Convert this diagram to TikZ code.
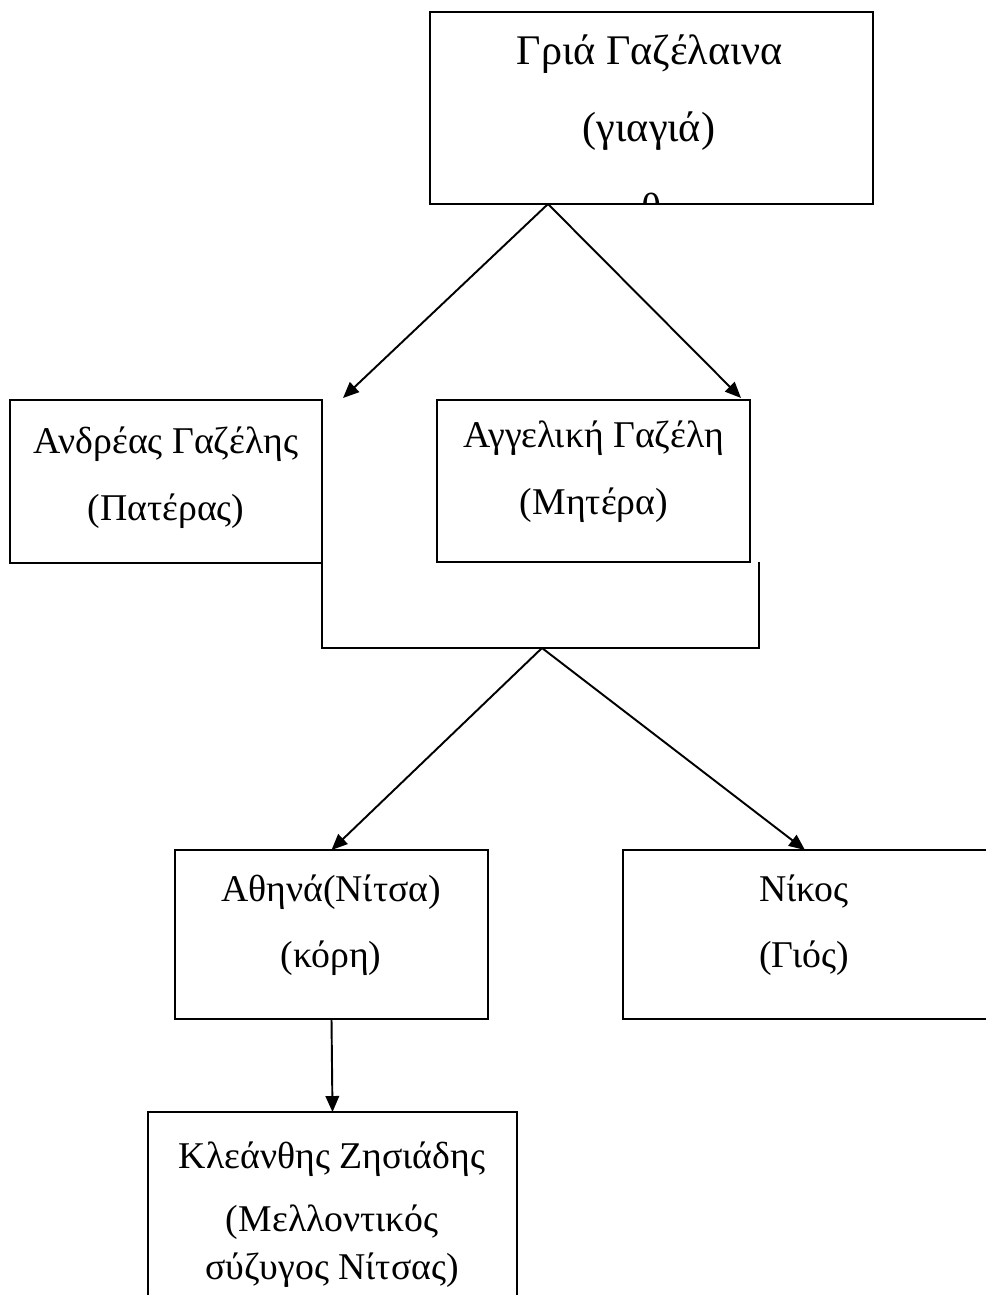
\documentclass[tikz,border=0pt]{standalone}
\usepackage{fontspec}
\setmainfont{Liberation Serif}
\usepackage{tikz}
\usetikzlibrary{positioning, arrows, arrows.meta}

\begin{document}
\begin{tikzpicture}[x=0.02cm, y=-0.02cm,
  person/.style={draw, line width=1.1pt, inner sep=0pt, outer sep=0pt},
  ptext/.style={anchor=base, inner sep=0pt, font=\fontsize{21.5}{26}\selectfont},
  bigtext/.style={ptext, font=\fontsize{24}{29}\selectfont},
  link/.style={line width=1.1pt, -{Triangle[length=0.32cm, width=0.27cm]}}]
\useasboundingbox (0,0) rectangle (985,1295);

% Boxes
\node[person, minimum width=8.86cm, minimum height=3.84cm] (grandma) at (651.5,108) {};
\node[person, minimum width=6.24cm, minimum height=3.26cm] (father) at (166,481.5) {};
\node[person, minimum width=6.26cm, minimum height=3.24cm] (mother) at (593.5,481) {};
\node[person, minimum width=6.26cm, minimum height=3.38cm] (daughter) at (331.5,934.5) {};
\node[person, minimum width=7.28cm, minimum height=3.38cm] (son) at (805,934.5) {};
\node[person, minimum width=7.38cm, minimum height=4.16cm] (fiance) at (332.5,1216) {};

% Names
\node[bigtext] (grandmaA) at (650,64) {Γριά Γαζέλαινα};
\node[bigtext] (grandmaB) at (649,141) {(γιαγιά)};
\begin{scope}
  \clip (grandma.south west) rectangle (grandma.north east);
  \node[bigtext] (grandmaC) at (652,222) {θ};
\end{scope}
\node[ptext] (fatherA) at (166,453) {Ανδρέας Γαζέλης};
\node[ptext] (fatherB) at (166,520) {(Πατέρας)};
\node[ptext] (motherA) at (594,447) {Αγγελική Γαζέλη};
\node[ptext] (motherB) at (594,514) {(Μητέρα)};
\node[ptext] (daughterA) at (331,901) {Αθηνά(Νίτσα)};
\node[ptext] (daughterB) at (331,967) {(κόρη)};
\node[ptext] (sonA) at (804,901) {Νίκος};
\node[ptext] (sonB) at (804,967) {(Γιός)};
\node[ptext] (fianceA) at (332,1168) {Κλεάνθης Ζησιάδης};
\node[ptext] (fianceB) at (332,1231) {(Μελλοντικός};
\node[ptext] (fianceC) at (332,1279) {σύζυγος Νίτσας)};

% Connectors
\coordinate (top) at (548,204);
\coordinate (fatherin) at (343,398);
\coordinate (motherin) at (741,398);
\draw[link] (top) -- (fatherin);
\draw[link] (top) -- (motherin);

\coordinate (marriage) at (542,648);
\draw[line width=1.1pt] (father.south east) -- (father.south east |- marriage) -- (759,648) -- (759,562);
\draw[link] (marriage) -- (daughter.north);
\draw[link] (marriage) -- (son.north);
\draw[link] (daughter.south) -- (fiance.north);
\end{tikzpicture}
\end{document}
